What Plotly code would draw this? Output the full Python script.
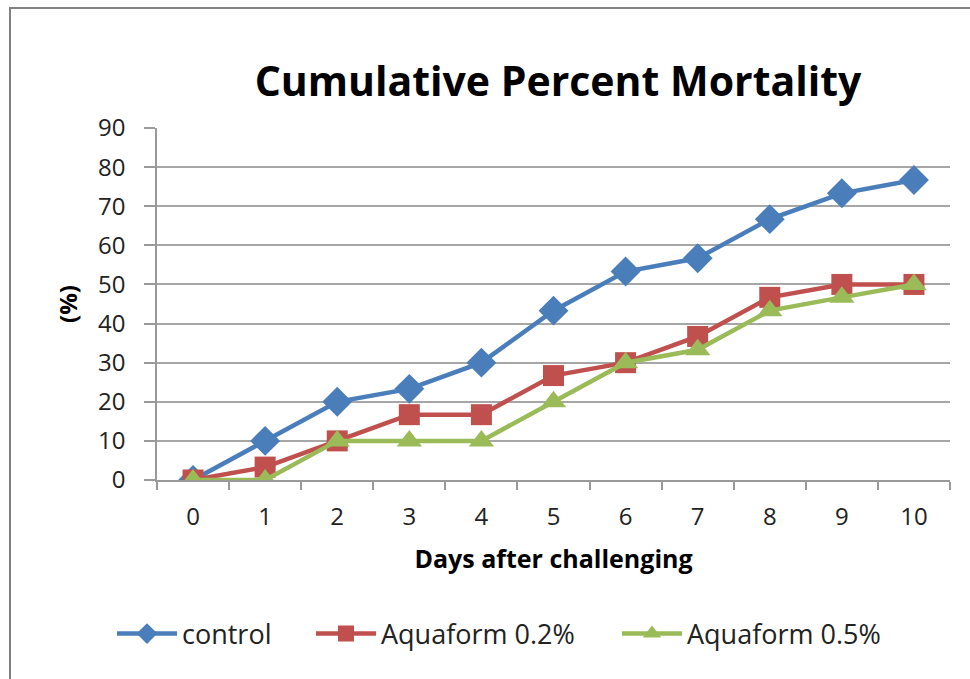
import plotly.graph_objects as go

days = [0, 1, 2, 3, 4, 5, 6, 7, 8, 9, 10]
control = [0, 10, 20, 23.3, 30, 43.3, 53.3, 56.7, 66.7, 73.3, 76.7]
aqua_02 = [0, 3.3, 10, 16.7, 16.7, 26.7, 30, 36.7, 46.7, 50, 50]
aqua_05 = [0, 0, 10, 10, 10, 20, 30, 33.3, 43.3, 46.7, 50]
y_ticks = [0, 10, 20, 30, 40, 50, 60, 70, 80, 90]

W, H = 970, 679
L, R, T, B = 157, 20, 128, 199
pw = W - L - R
ph = H - T - B

def px(x):
    return (x - L) / pw

def py(y):
    return (H - B - y) / ph

FONT = "Open Sans, sans-serif"

fig = go.Figure()
fig.add_trace(go.Scatter(x=days, y=control, name="control", mode="lines+markers",
                         line=dict(color="#4A7EBB", width=4.5),
                         marker=dict(symbol="diamond", size=23, color="#4A7EBB"),
                         legend="legend"))
fig.add_trace(go.Scatter(x=days, y=aqua_02, name="Aquaform 0.2%", mode="lines+markers",
                         line=dict(color="#C0504D", width=4.5),
                         marker=dict(symbol="square", size=21, color="#C0504D"),
                         legend="legend2"))
fig.add_trace(go.Scatter(x=days, y=aqua_05, name="Aquaform 0.5%", mode="lines+markers",
                         line=dict(color="#9BBB59", width=4.5),
                         marker=dict(symbol="triangle-up", size=22, color="#9BBB59"),
                         legend="legend3"))

def leg(xpix):
    return dict(orientation="h", x=px(xpix), xanchor="left", y=py(634), yanchor="middle",
                font=dict(size=27, color="#222222"), itemwidth=60,
                bgcolor="rgba(0,0,0,0)", borderwidth=0)

fig.update_layout(
    width=W, height=H,
    margin=dict(l=L, r=R, t=T, b=B),
    paper_bgcolor="white", plot_bgcolor="white",
    font=dict(family=FONT, size=24, color="#222222"),
    title=dict(text="<b>Cumulative Percent Mortality</b>", xref="container", x=558 / W,
               xanchor="center", yref="container", y=1 - 82 / H, yanchor="middle",
               font=dict(size=41, color="black")),
    showlegend=True,
    legend=leg(112),
    legend2=leg(311),
    legend3=leg(617),
    xaxis=dict(range=[-0.5, 10.5], tickmode="array", tickvals=days,
               ticktext=[str(d) for d in days], ticks="", showgrid=False,
               showline=True, linecolor="#999999", linewidth=1.5,
               minor=dict(tick0=-0.5, dtick=1, ticks="outside", ticklen=8,
                          tickcolor="#999999", tickwidth=1.5, showgrid=False),
               ticklabelstandoff=14,
               title=dict(text="<b>Days after challenging</b>", standoff=20,
                          font=dict(size=25, color="black")),
               tickfont=dict(size=24), zeroline=False),
    yaxis=dict(range=[0, 90], tickvals=y_ticks, ticks="outside", ticklen=11,
               tickcolor="#999999", tickwidth=1.5, showgrid=True,
               gridcolor="#A6A6A6", gridwidth=1.5, showline=True,
               linecolor="#999999", linewidth=1.5, zeroline=False,
               ticklabelstandoff=14,
               title=dict(text="<b>(%)</b>", standoff=14, font=dict(size=24, color="black")),
               tickfont=dict(size=24)),
    shapes=[dict(type="rect", xref="paper", yref="paper",
                 x0=px(10), x1=px(980), y0=py(690), y1=py(8),
                 line=dict(color="#808080", width=2), fillcolor="rgba(0,0,0,0)",
                 layer="below")],
)

fig.write_html("out.html", config={"displayModeBar": False},
               post_script="document.body.style.margin='0';")
